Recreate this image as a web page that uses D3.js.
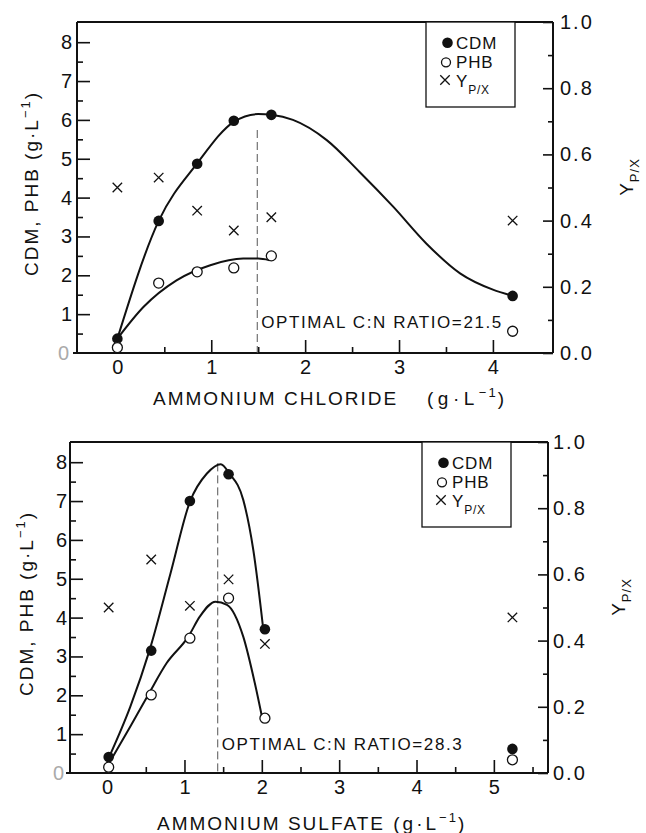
<!DOCTYPE html>
<html>
<head>
<meta charset="utf-8">
<script src="https://cdn.jsdelivr.net/npm/d3@7"></script>
<style>
  body { margin: 0; background: #fff; }
  svg { display: block; font-family: "Liberation Sans", Arial, sans-serif; }
</style>
</head>
<body>
<div id="chart"></div>
<script>
// measured points, ammonium chloride panel
const chlorideConc = [0, 0.44, 0.85, 1.24, 1.64, 4.21];
const chlorideCDM = [0.37, 3.40, 4.87, 5.98, 6.13, 1.47];
const chloridePHB = [0.14, 1.80, 2.09, 2.19, 2.50, 0.56];
const chlorideYield = [0.50, 0.53, 0.43, 0.37, 0.41, 0.40];

// fitted curves (knots)
const chlorideCdmFitX = [0, 0.44, 0.85, 1.24, 1.50, 1.64, 1.87, 2.23, 2.58, 2.94, 3.29, 3.65, 4.00, 4.21];
const chlorideCdmFitY = [0.37, 3.40, 4.88, 5.95, 6.15, 6.13, 6.00, 5.48, 4.66, 3.76, 2.82, 2.05, 1.63, 1.47];
const chloridePhbFitX = [0, 0.28, 0.63, 0.99, 1.34, 1.50, 1.62];
const chloridePhbFitY = [0.37, 1.19, 1.87, 2.26, 2.43, 2.43, 2.39];

// measured points, ammonium sulfate panel
const sulfateConc = [0.02, 0.57, 1.07, 1.57, 2.04, 5.24];
const sulfateCDM = [0.41, 3.15, 7.00, 7.69, 3.70, 0.62];
const sulfatePHB = [0.15, 2.01, 3.47, 4.50, 1.41, 0.34];
const sulfateYield = [0.50, 0.645, 0.505, 0.585, 0.39, 0.47];

const sulfateCdmFitX = [0.03, 0.30, 0.55, 0.82, 1.07, 1.29, 1.47, 1.58, 1.76, 1.89, 2.02];
const sulfateCdmFitY = [0.43, 1.71, 3.17, 5.14, 6.98, 7.71, 7.95, 7.71, 7.03, 5.74, 3.68];
const sulfatePhbFitX = [0.04, 0.30, 0.53, 0.77, 1.05, 1.20, 1.40, 1.55, 1.76, 1.91, 2.01];
const sulfatePhbFitY = [0.30, 1.20, 2.01, 2.83, 3.51, 4.03, 4.41, 4.33, 3.51, 2.31, 1.37];

// optimal C:N markers
const optimalConc = [1.49, 1.43];
const optimalTop = [5.74, 7.97];
const optimalLabels = ['OPTIMAL C:N RATIO=21.5', 'OPTIMAL C:N RATIO=28.3'];

// ticks
const leftTicks = [0, 1, 2, 3, 4, 5, 6, 7, 8];
const leftMinor = [0.5, 1.5, 2.5, 3.5, 4.5, 5.5, 6.5, 7.5];
const rightTicks = [0, 0.2, 0.4, 0.6, 0.8, 1.0];
const rightMinor = [0.1, 0.3, 0.5, 0.7, 0.9];
const chlorideTicks = [0, 1, 2, 3, 4];
const chlorideMinor = [0.5, 1.5, 2.5, 3.5];
const sulfateTicks = [0, 1, 2, 3, 4, 5];
const sulfateMinor = [0.5, 1.5, 2.5, 3.5, 4.5, 5.5];

const legendNames = ['CDM', 'PHB', 'Y'];

const ink = '#111';
const svg = d3.select('#chart').append('svg')
  .attr('width', 646)
  .attr('height', 833);

function zip(xs, ys) { return xs.map((v, i) => [v, ys[i]]); }

function drawPanel(p) {
  const g = svg.append('g');
  const x = d3.scaleLinear().domain(p.xDomain).range([p.left, p.right]);
  const yL = d3.scaleLinear().domain([0, 8.52]).range([p.bottom, p.top]);
  const yR = d3.scaleLinear().domain([0, 1]).range([p.bottom, p.top]);

  // axes
  function styleAxis(sel) {
    sel.attr('font-size', null).attr('font-family', null);
    sel.select('.domain').remove();
    sel.selectAll('line').attr('stroke', ink).attr('stroke-width', 1.6);
    sel.selectAll('text').attr('fill', ink).attr('font-size', 20);
  }

  g.append('g').attr('transform', `translate(${p.left},0)`)
    .call(d3.axisLeft(yL).tickValues(leftTicks).tickSize(-13).tickPadding(p.leftPad).tickFormat(d3.format('d')))
    .call(styleAxis)
    .call(s => s.selectAll('.tick').filter(d => d === 0).select('text').attr('fill', '#aaa').attr('dx', -3))
    .call(s => s.selectAll('.tick').filter(d => d === 0).select('line').remove());
  g.append('g').attr('transform', `translate(${p.left},0)`)
    .call(d3.axisLeft(yL).tickValues(leftMinor).tickSize(-6).tickFormat(''))
    .call(styleAxis);

  g.append('g').attr('transform', `translate(${p.right},0)`)
    .call(d3.axisRight(yR).tickValues(rightTicks).tickSize(-10).tickPadding(p.rightPad).tickFormat(d3.format('.1f')))
    .call(styleAxis)
    .call(s => s.selectAll('text').attr('letter-spacing', 2));
  g.append('g').attr('transform', `translate(${p.right},0)`)
    .call(d3.axisRight(yR).tickValues(rightMinor).tickSize(-5).tickFormat(''))
    .call(styleAxis);

  g.append('g').attr('transform', `translate(0,${p.bottom})`)
    .call(d3.axisBottom(x).tickValues(p.xTicks).tickSize(-13).tickPadding(7).tickFormat(d3.format('d')))
    .call(styleAxis)
    .call(s => s.selectAll('.tick').filter(d => d === 0).select('line').remove());
  g.append('g').attr('transform', `translate(0,${p.bottom})`)
    .call(d3.axisBottom(x).tickValues(p.xMinor).tickSize(-6).tickFormat(''))
    .call(styleAxis);

  // frame
  const frame = [
    [p.left, p.top, p.left, p.bottom],
    [p.left, p.top, p.right, p.top],
    [p.right, p.top, p.right, p.bottom],
    [p.left - 4, p.bottom, p.right, p.bottom]
  ];
  g.selectAll('line.frame').data(frame).join('line')
    .attr('class', 'frame')
    .attr('x1', d => d[0]).attr('y1', d => d[1])
    .attr('x2', d => d[2]).attr('y2', d => d[3])
    .attr('stroke', ink).attr('stroke-width', 2);

  // optimal dashed line + note
  g.append('line')
    .attr('x1', x(p.optX)).attr('x2', x(p.optX))
    .attr('y1', yL(p.optTop)).attr('y2', p.bottom)
    .attr('stroke', '#555').attr('stroke-width', 1)
    .attr('stroke-dasharray', '8,4');
  g.append('text')
    .attr('x', x(p.optX) + 4).attr('y', p.noteY)
    .attr('font-size', 17).attr('letter-spacing', 1.6).attr('fill', ink)
    .text(p.optLabel);

  // fitted curves
  const line = d3.line().x(d => x(d[0])).y(d => yL(d[1])).curve(d3.curveMonotoneX);
  g.selectAll('path.fit').data([p.cdmFit, p.phbFit]).join('path')
    .attr('class', 'fit')
    .attr('d', line)
    .attr('fill', 'none').attr('stroke', ink).attr('stroke-width', 2);

  // markers
  g.selectAll('circle.cdm').data(zip(p.conc, p.cdm)).join('circle')
    .attr('class', 'cdm')
    .attr('cx', d => x(d[0])).attr('cy', d => yL(d[1]))
    .attr('r', 5.3).attr('fill', ink);
  g.selectAll('circle.phb').data(zip(p.conc, p.phb)).join('circle')
    .attr('class', 'phb')
    .attr('cx', d => x(d[0])).attr('cy', d => yL(d[1]))
    .attr('r', 5).attr('fill', '#fff').attr('stroke', ink).attr('stroke-width', 1.3);
  const cross = d3.symbol().type(d3.symbolX).size(60);
  g.selectAll('path.yld').data(zip(p.conc, p.yld)).join('path')
    .attr('class', 'yld')
    .attr('transform', d => `translate(${x(d[0])},${yR(d[1])})`)
    .attr('d', cross)
    .attr('fill', 'none').attr('stroke', ink).attr('stroke-width', 1.3);

  // legend
  const lg = g.append('g').attr('transform', `translate(${p.legendX},${p.top})`);
  lg.append('rect').attr('width', 89).attr('height', 85)
    .attr('fill', '#fff').attr('stroke', ink).attr('stroke-width', 1.3);
  lg.append('circle').attr('cx', 21.5).attr('cy', 20.7).attr('r', 5.3).attr('fill', ink);
  lg.append('circle').attr('cx', 20).attr('cy', 40.3).attr('r', 4.5)
    .attr('fill', '#fff').attr('stroke', ink).attr('stroke-width', 1.3);
  lg.append('path').attr('transform', 'translate(19,58)').attr('d', cross)
    .attr('fill', 'none').attr('stroke', ink).attr('stroke-width', 1.3);
  lg.selectAll('text').data(legendNames).join('text')
    .attr('x', 30).attr('y', (d, i) => 27.3 + i * 18.8)
    .attr('font-size', 17).attr('letter-spacing', 0.8).attr('fill', ink)
    .text(d => d)
    .filter(d => d === 'Y')
    .append('tspan').attr('dy', 7).attr('font-size', 12).text('P/X');

  // axis titles
  g.append('text')
    .attr('transform', `translate(${p.left - p.leftTitleOff},${(p.top + p.bottom) / 2 - 4}) rotate(-90)`)
    .attr('text-anchor', 'middle').attr('font-size', 19).attr('letter-spacing', 2).attr('fill', ink)
    .call(t => {
      t.append('tspan').text('CDM, PHB (g·L');
      t.append('tspan').attr('dy', -8).attr('font-size', 13).text('−1');
      t.append('tspan').attr('dy', 8).text(')');
    });
  g.append('text')
    .attr('transform', `translate(${p.right + p.rightTitleOff},${p.top + 155}) rotate(-90)`)
    .attr('text-anchor', 'middle').attr('font-size', 19).attr('letter-spacing', 1).attr('fill', ink)
    .call(t => {
      t.append('tspan').text('Y');
      t.append('tspan').attr('dy', 6).attr('font-size', 13).text('P/X');
    });
  const xt = g.append('text')
    .attr('x', p.xTitleX).attr('y', p.bottom + p.xTitleOff)
    .attr('font-size', 19).attr('letter-spacing', 2).attr('fill', ink);
  xt.append('tspan').text(p.xTitle);
  const unit = xt.append('tspan').attr('letter-spacing', p.unitSpacing).text(p.unitX ? '(g·L' : ' (g·L');
  if (p.unitX) unit.attr('x', p.unitX);
  xt.append('tspan').attr('dy', -8).attr('font-size', 13).text('−1');
  xt.append('tspan').attr('dy', 8).text(')');
}

drawPanel({
  left: 77, right: 553, top: 22, bottom: 353,
  xDomain: [-0.43, 4.64], xTicks: chlorideTicks, xMinor: chlorideMinor,
  conc: chlorideConc, cdm: chlorideCDM, phb: chloridePHB, yld: chlorideYield,
  cdmFit: zip(chlorideCdmFitX, chlorideCdmFitY), phbFit: zip(chloridePhbFitX, chloridePhbFitY),
  optX: optimalConc[0], optTop: optimalTop[0], optLabel: optimalLabels[0], noteY: 328,
  legendX: 426, leftPad: 5, rightPad: 7,
  leftTitleOff: 39, rightTitleOff: 80,
  xTitle: 'AMMONIUM CHLORIDE', xTitleX: 153, unitX: 427, unitSpacing: 4.5, xTitleOff: 52
});

drawPanel({
  left: 70, right: 548, top: 442, bottom: 773,
  xDomain: [-0.48, 5.70], xTicks: sulfateTicks, xMinor: sulfateMinor,
  conc: sulfateConc, cdm: sulfateCDM, phb: sulfatePHB, yld: sulfateYield,
  cdmFit: zip(sulfateCdmFitX, sulfateCdmFitY), phbFit: zip(sulfatePhbFitX, sulfatePhbFitY),
  optX: optimalConc[1], optTop: optimalTop[1], optLabel: optimalLabels[1], noteY: 750,
  legendX: 422, leftPad: 3, rightPad: 5,
  leftTitleOff: 37, rightTitleOff: 77,
  xTitle: 'AMMONIUM SULFATE', xTitleX: 157, unitX: null, unitSpacing: 3, xTitleOff: 57
});
</script>
</body>
</html>
